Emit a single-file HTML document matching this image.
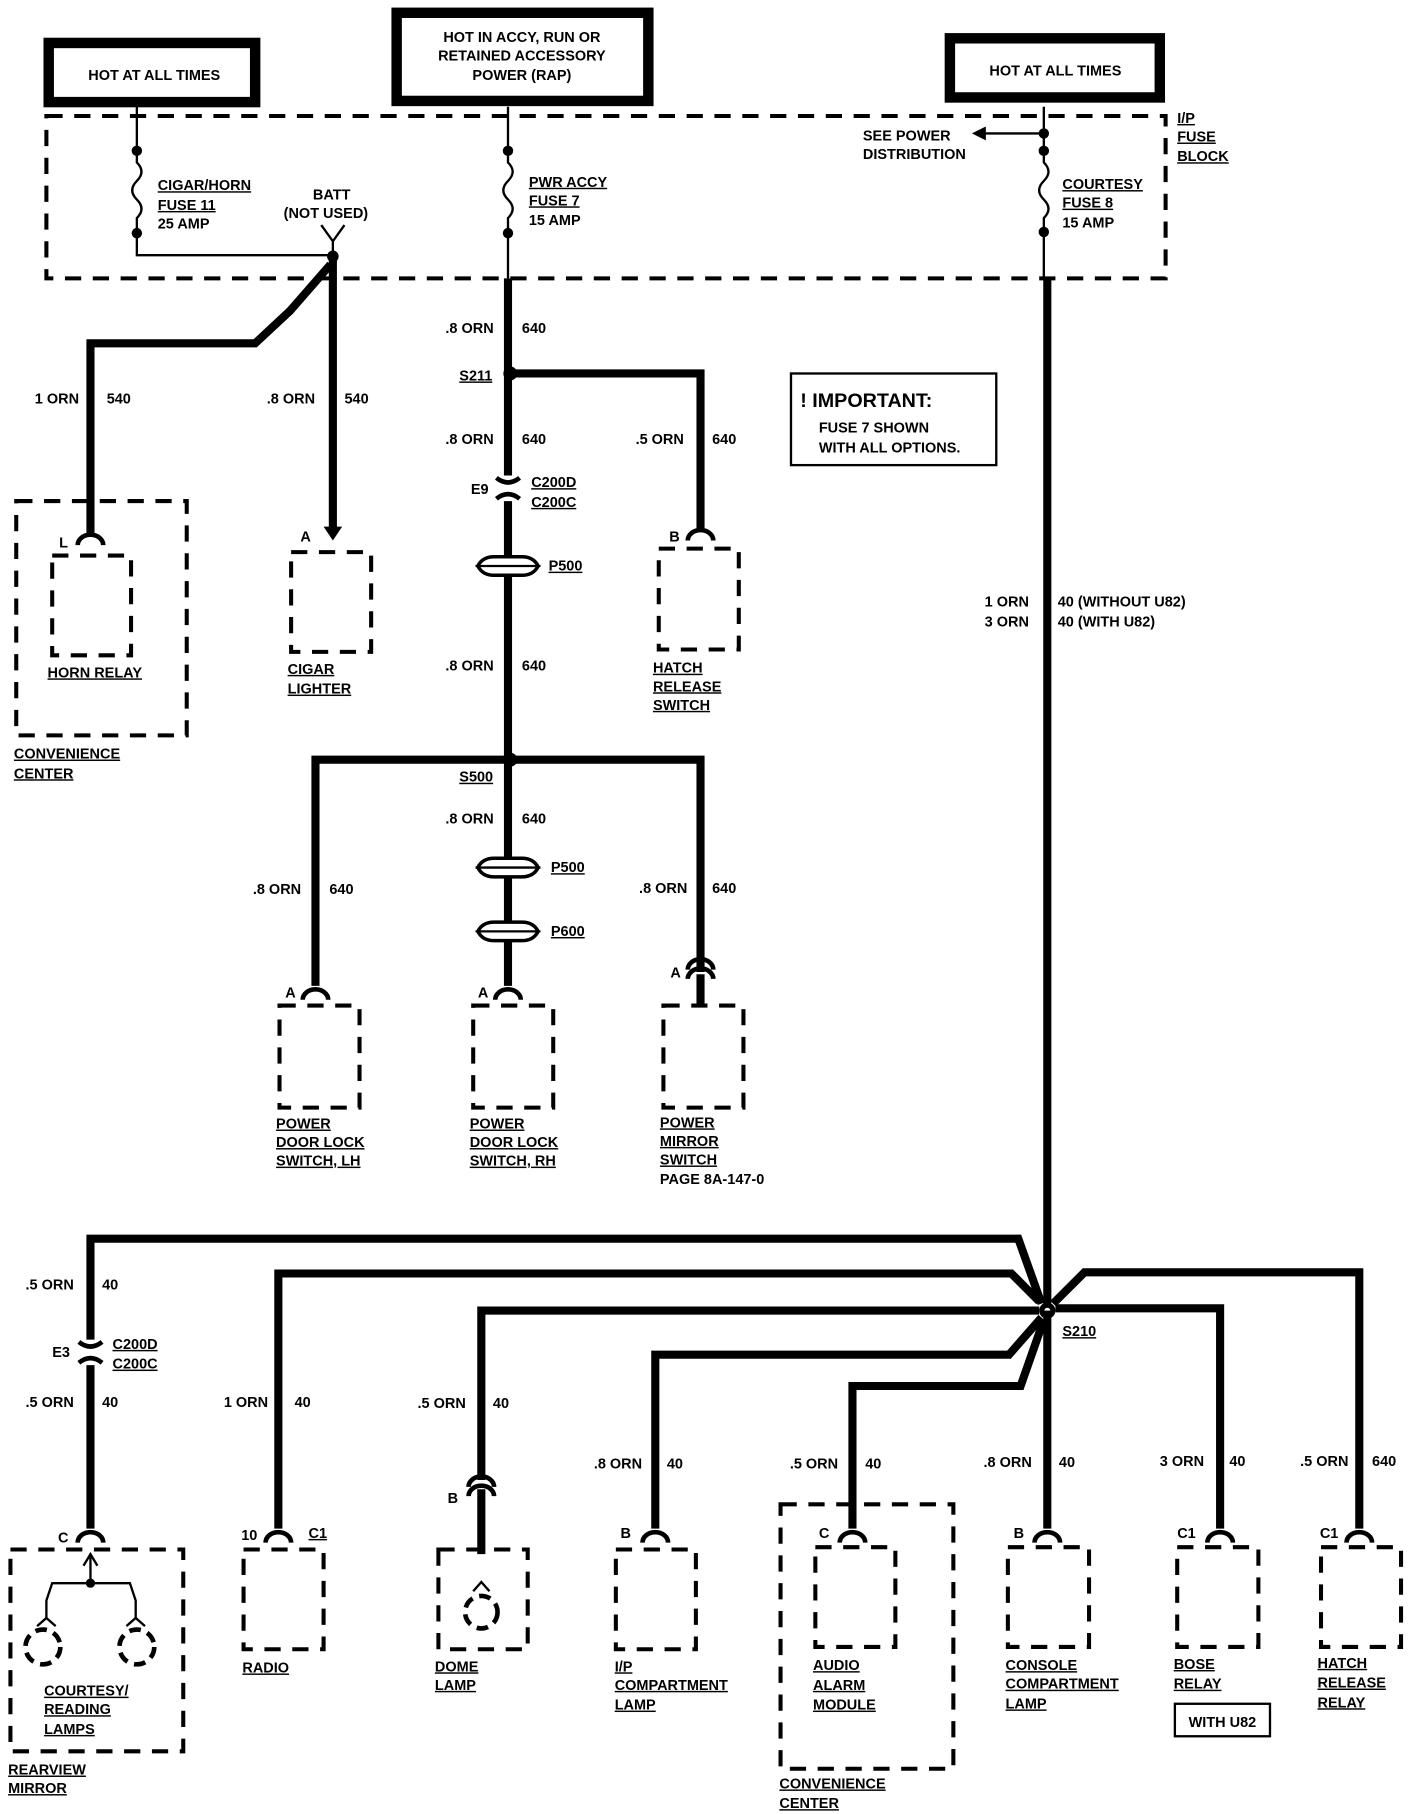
<!DOCTYPE html>
<html><head><meta charset="utf-8"><style>
html,body{margin:0;padding:0;background:#fff}
svg{display:block}
text{font-family:"Liberation Sans",sans-serif;font-weight:bold;font-size:12.5px;fill:#000}
.u{text-decoration:underline}
.w{fill:none;stroke:#000;stroke-width:7}
.t{fill:none;stroke:#000;stroke-width:2}
.d{fill:none;stroke:#000;stroke-width:3.5;stroke-dasharray:14 10}
.c{fill:none;stroke:#000;stroke-width:4}
</style></head><body>
<svg width="1408" height="1814" viewBox="0 0 1214 1564" xmlns="http://www.w3.org/2000/svg">
<!-- header boxes -->
<rect x="42" y="37" width="178" height="51" fill="#fff" stroke="#000" stroke-width="9"/>
<text x="133" y="69" text-anchor="middle">HOT AT ALL TIMES</text>
<rect x="342" y="11" width="217" height="76" fill="#fff" stroke="#000" stroke-width="9"/>
<text x="450" y="36" text-anchor="middle">HOT IN ACCY, RUN OR</text>
<text x="450" y="52" text-anchor="middle">RETAINED ACCESSORY</text>
<text x="450" y="69" text-anchor="middle">POWER (RAP)</text>
<rect x="819" y="33" width="181" height="51" fill="#fff" stroke="#000" stroke-width="9"/>
<text x="910" y="65" text-anchor="middle">HOT AT ALL TIMES</text>
<!-- fuse block -->
<rect x="40" y="100" width="965" height="140" class="d"/>
<text x="1015" y="106" class="u">I/P</text>
<text x="1015" y="122" class="u">FUSE</text>
<text x="1015" y="139" class="u">BLOCK</text>
<!-- left fuse -->
<path class="t" d="M118 92V140 q8 8 0 16 q-8 8 0 16 q8 8 0 16 V220 H287"/>
<circle cx="118" cy="130" r="4.5"/><circle cx="118" cy="201" r="4.5"/>
<text x="136" y="164" class="u">CIGAR/HORN</text>
<text x="136" y="181" class="u">FUSE 11</text>
<text x="136" y="197">25 AMP</text>
<text x="286" y="172" text-anchor="middle">BATT</text>
<text x="281" y="188" text-anchor="middle">(NOT USED)</text>
<path class="t" d="M277 194 L287 208 L297 194 M287 208V222"/>
<circle cx="287" cy="221" r="5"/>
<path class="w" d="M287 222V458"/>
<path d="M287 466 l-8 -12 h16z"/>
<path class="w" d="M285 228 L250 268 L220 296 H78 V462"/>
<text x="30" y="348">1 ORN</text><text x="92" y="348">540</text>
<text x="230" y="348">.8 ORN</text><text x="297" y="348">540</text>
<rect x="14" y="432" width="147" height="202" class="d"/>
<rect x="45" y="479" width="68" height="86" class="d"/>
<path class="c" d="M67 470 a11 9 0 0 1 22 0"/>
<text x="51" y="472">L</text>
<text x="41" y="584" class="u">HORN RELAY</text>
<text x="12" y="654" class="u">CONVENIENCE</text>
<text x="12" y="671" class="u">CENTER</text>
<text x="259" y="467">A</text>
<rect x="251" y="476" width="69" height="86" class="d"/>
<text x="248" y="581" class="u">CIGAR</text>
<text x="248" y="598" class="u">LIGHTER</text>
<!-- middle fuse -->
<path class="t" d="M438 92V140 q8 8 0 16 q-8 8 0 16 q8 8 0 16 V240"/>
<circle cx="438" cy="130" r="4.5"/><circle cx="438" cy="201" r="4.5"/>
<text x="456" y="161" class="u">PWR ACCY</text>
<text x="456" y="177" class="u">FUSE 7</text>
<text x="456" y="194">15 AMP</text>
<path class="w" d="M438 240V410 M438 432V850"/>
<text x="384" y="287">.8 ORN</text><text x="450" y="287">640</text>
<circle cx="440" cy="322" r="6"/>
<text x="396" y="328" class="u">S211</text>
<path class="w" d="M440 322H604V458"/>
<path class="c" d="M593 466 a11 9 0 0 1 22 0"/>
<text x="384" y="383">.8 ORN</text><text x="450" y="383">640</text>
<text x="548" y="383">.5 ORN</text><text x="614" y="383">640</text>
<path class="c" d="M428 412 q10 8 20 0 M428 430 q10 -8 20 0"/>
<text x="406" y="426">E9</text>
<text x="458" y="420" class="u">C200D</text>
<text x="458" y="437" class="u">C200C</text>
<path d="M412 488 q4 -8 14 -8 h24 q10 0 14 8 q-4 8 -14 8 h-24 q-10 0 -14 -8z" fill="#fff" stroke="#000" stroke-width="3"/>
<path class="t" d="M410 488H466"/>
<text x="473" y="492" class="u">P500</text>
<text x="577" y="467">B</text>
<rect x="568" y="473" width="69" height="87" class="d"/>
<text x="563" y="580" class="u">HATCH</text>
<text x="563" y="596" class="u">RELEASE</text>
<text x="563" y="612" class="u">SWITCH</text>
<text x="384" y="578">.8 ORN</text><text x="450" y="578">640</text>
<circle cx="440" cy="655" r="6"/>
<text x="396" y="674" class="u">S500</text>
<path class="w" d="M440 655H272V850 M440 655H604V838"/>
<text x="384" y="710">.8 ORN</text><text x="450" y="710">640</text>
<path d="M412 748 q4 -8 14 -8 h24 q10 0 14 8 q-4 8 -14 8 h-24 q-10 0 -14 -8z" fill="#fff" stroke="#000" stroke-width="3"/>
<path class="t" d="M410 748H466"/>
<text x="475" y="752" class="u">P500</text>
<path d="M412 803 q4 -8 14 -8 h24 q10 0 14 8 q-4 8 -14 8 h-24 q-10 0 -14 -8z" fill="#fff" stroke="#000" stroke-width="3"/>
<path class="t" d="M410 803H466"/>
<text x="475" y="807" class="u">P600</text>
<text x="218" y="771">.8 ORN</text><text x="284" y="771">640</text>
<text x="551" y="770">.8 ORN</text><text x="614" y="770">640</text>
<path class="c" d="M261 862 a11 9 0 0 1 22 0"/>
<path class="c" d="M427 862 a11 9 0 0 1 22 0"/>
<path class="c" d="M593 836 a11 9 0 0 1 22 0 M593 844 a11 9 0 0 1 22 0"/>
<path class="w" d="M604 840V866"/>
<text x="246" y="860">A</text><text x="412" y="860">A</text><text x="578" y="843">A</text>
<rect x="241" y="867" width="69" height="88" class="d"/>
<rect x="408" y="867" width="69" height="88" class="d"/>
<rect x="572" y="867" width="69" height="88" class="d"/>
<text x="238" y="973" class="u">POWER</text><text x="238" y="989" class="u">DOOR LOCK</text><text x="238" y="1005" class="u">SWITCH, LH</text>
<text x="405" y="973" class="u">POWER</text><text x="405" y="989" class="u">DOOR LOCK</text><text x="405" y="1005" class="u">SWITCH, RH</text>
<text x="569" y="972" class="u">POWER</text><text x="569" y="988" class="u">MIRROR</text><text x="569" y="1004" class="u">SWITCH</text><text x="569" y="1021">PAGE 8A-147-0</text>
<!-- right fuse -->
<path class="t" d="M900 92V140 q8 8 0 16 q-8 8 0 16 q8 8 0 16 V240 M900 115H848"/>
<path d="M838 115 l12 -6 v12z"/>
<circle cx="900" cy="115" r="4.5"/><circle cx="900" cy="130" r="4.5"/><circle cx="900" cy="200" r="4.5"/>
<text x="744" y="121">SEE POWER</text>
<text x="744" y="137">DISTRIBUTION</text>
<text x="916" y="163" class="u">COURTESY</text>
<text x="916" y="179" class="u">FUSE 8</text>
<text x="916" y="196">15 AMP</text>
<path class="w" d="M903 240V1130"/>
<rect x="682" y="322" width="177" height="79" fill="none" stroke="#000" stroke-width="2"/>
<text x="690" y="351" style="font-size:17px">! IMPORTANT:</text>
<text x="706" y="373">FUSE 7 SHOWN</text>
<text x="706" y="390">WITH ALL OPTIONS.</text>
<text x="849" y="523">1 ORN</text><text x="849" y="540">3 ORN</text>
<text x="912" y="523">40 (WITHOUT U82)</text><text x="912" y="540">40 (WITH U82)</text>
<!-- S210 -->
<circle cx="903" cy="1130" r="7"/>
<circle cx="903" cy="1130" r="2.5" fill="#fff"/>
<text x="916" y="1152" class="u">S210</text>
<path class="w" d="M898 1124 L878 1068 H78 V1155 M78 1177 V1318"/>
<path class="w" d="M896 1122 L872 1098 H240 V1318"/>
<path class="w" d="M896 1130 H415 V1276"/>
<path class="w" d="M898 1136 L870 1168 H565 V1318"/>
<path class="w" d="M900 1138 L880 1195 H735 V1318"/>
<path class="w" d="M903 1130 V1318"/>
<path class="w" d="M908 1124 L935 1097 H1172 V1318"/>
<path class="w" d="M910 1128 H1052 V1318"/>
<text x="22" y="1112">.5 ORN</text><text x="88" y="1112">40</text>
<path class="c" d="M68 1157 q10 8 20 0 M68 1175 q10 -8 20 0"/>
<text x="45" y="1170">E3</text>
<text x="97" y="1163" class="u">C200D</text><text x="97" y="1180" class="u">C200C</text>
<text x="22" y="1213">.5 ORN</text><text x="88" y="1213">40</text>
<text x="193" y="1213">1 ORN</text><text x="254" y="1213">40</text>
<text x="360" y="1214">.5 ORN</text><text x="425" y="1214">40</text>
<text x="512" y="1266">.8 ORN</text><text x="575" y="1266">40</text>
<text x="681" y="1266">.5 ORN</text><text x="746" y="1266">40</text>
<text x="848" y="1265">.8 ORN</text><text x="913" y="1265">40</text>
<text x="1000" y="1264">3 ORN</text><text x="1060" y="1264">40</text>
<text x="1121" y="1264">.5 ORN</text><text x="1183" y="1264">640</text>
<!-- connectors bottom -->
<path class="c" d="M67 1330 a11 9 0 0 1 22 0"/>
<path class="c" d="M229 1330 a11 9 0 0 1 22 0"/>
<path class="c" d="M404 1282 a11 9 0 0 1 22 0 M404 1290 a11 9 0 0 1 22 0"/>
<path class="w" d="M415 1284V1340"/>
<path class="c" d="M554 1330 a11 9 0 0 1 22 0"/>
<path class="c" d="M724 1330 a11 9 0 0 1 22 0"/>
<path class="c" d="M892 1330 a11 9 0 0 1 22 0"/>
<path class="c" d="M1041 1330 a11 9 0 0 1 22 0"/>
<path class="c" d="M1161 1330 a11 9 0 0 1 22 0"/>
<!-- rearview -->
<rect x="9" y="1336" width="149" height="174" class="d"/>
<text x="50" y="1330">C</text>
<path class="t" d="M78 1342V1365 M40 1395 V1380 L45 1365 H112 L117 1380 V1395 M72 1350 L78 1340 L84 1350"/>
<circle cx="78" cy="1365" r="4"/>
<path class="t" d="M32 1402 L40 1395 L48 1402 M109 1402 L117 1395 L125 1402"/>
<circle cx="37" cy="1420" r="15" class="c" stroke-dasharray="10 6"/>
<circle cx="118" cy="1420" r="15" class="c" stroke-dasharray="10 6"/>
<text x="38" y="1462" class="u">COURTESY/</text><text x="38" y="1478" class="u">READING</text><text x="38" y="1495" class="u">LAMPS</text>
<text x="7" y="1530" class="u">REARVIEW</text><text x="7" y="1546" class="u">MIRROR</text>
<rect x="210" y="1336" width="69" height="86" class="d"/>
<text x="208" y="1328">10</text><text x="266" y="1326" class="u">C1</text>
<text x="209" y="1442" class="u">RADIO</text>
<rect x="378" y="1336" width="77" height="86" class="d"/>
<text x="386" y="1296">B</text>
<path class="t" d="M408 1372 L415 1364 L422 1372"/>
<circle cx="415" cy="1390" r="14" class="c" stroke-dasharray="10 6"/>
<text x="375" y="1441" class="u">DOME</text><text x="375" y="1457" class="u">LAMP</text>
<rect x="531" y="1336" width="69" height="86" class="d"/>
<text x="535" y="1326">B</text>
<text x="530" y="1441" class="u">I/P</text><text x="530" y="1457" class="u">COMPARTMENT</text><text x="530" y="1474" class="u">LAMP</text>
<rect x="673" y="1297" width="149" height="228" class="d"/>
<rect x="703" y="1334" width="69" height="86" class="d"/>
<text x="706" y="1326">C</text>
<text x="701" y="1440" class="u">AUDIO</text><text x="701" y="1457" class="u">ALARM</text><text x="701" y="1474" class="u">MODULE</text>
<text x="672" y="1542" class="u">CONVENIENCE</text><text x="672" y="1559" class="u">CENTER</text>
<rect x="869" y="1334" width="70" height="86" class="d"/>
<text x="874" y="1326">B</text>
<text x="867" y="1440" class="u">CONSOLE</text><text x="867" y="1456" class="u">COMPARTMENT</text><text x="867" y="1473" class="u">LAMP</text>
<rect x="1015" y="1334" width="70" height="86" class="d"/>
<text x="1015" y="1326">C1</text>
<text x="1012" y="1439" class="u">BOSE</text><text x="1012" y="1456" class="u">RELAY</text>
<rect x="1013" y="1469" width="82" height="28" fill="none" stroke="#000" stroke-width="2"/>
<text x="1054" y="1489" text-anchor="middle">WITH U82</text>
<rect x="1139" y="1334" width="69" height="86" class="d"/>
<text x="1138" y="1326">C1</text>
<text x="1136" y="1438" class="u">HATCH</text><text x="1136" y="1455" class="u">RELEASE</text><text x="1136" y="1472" class="u">RELAY</text>
</svg>
</body></html>
